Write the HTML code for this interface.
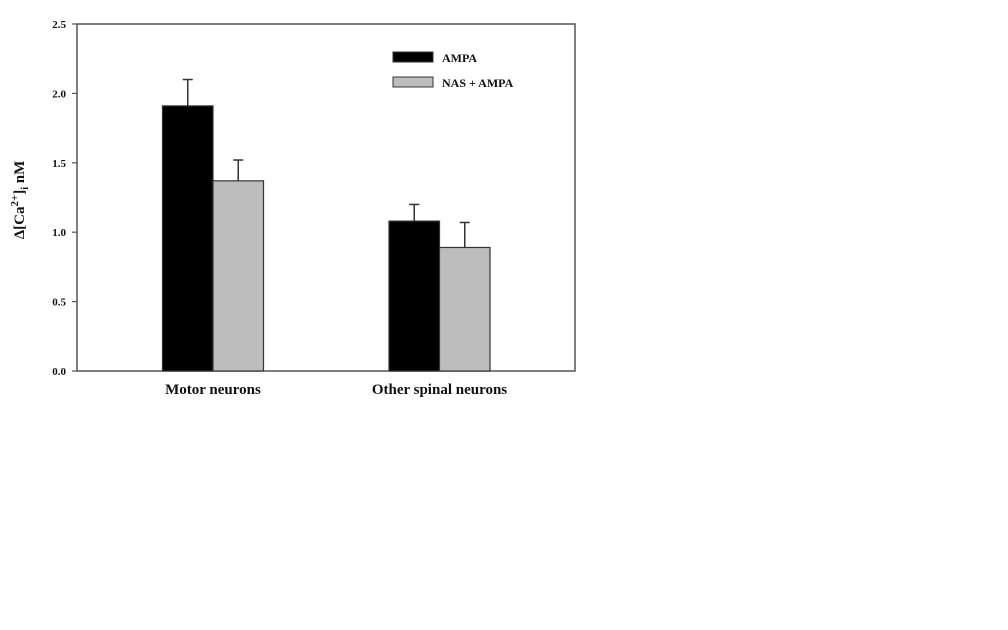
<!DOCTYPE html>
<html><head><meta charset="utf-8"><style>
html,body{margin:0;padding:0;background:#fff;width:1008px;height:630px;overflow:hidden}
text{font-family:"Liberation Serif",serif;font-weight:bold;fill:#111}
</style></head><body>
<svg id="chart" width="1008" height="630" xmlns="http://www.w3.org/2000/svg"></svg>
<script>
const categories = ["Motor neurons", "Other spinal neurons"];
const seriesNames = ["AMPA", "NAS + AMPA"];
const ampaValues = [1.91, 1.08];
const ampaErrors = [0.19, 0.12];
const nasValues = [1.37, 0.89];
const nasErrors = [0.15, 0.18];
const yTicks = [0, 0.5, 1.0, 1.5, 2.0, 2.5];

const svg = document.getElementById('chart');
const NS = 'http://www.w3.org/2000/svg';
const L = 77, R = 575, T = 24, B = 371, yMax = 2.5;
const y = v => B - (v / yMax) * (B - T);
const groupCenters = [213, 439.5];
const barW = 50.5;
function mk(tag, attrs, name, parent) {
  const e = document.createElementNS(NS, tag);
  for (const k in attrs) e.setAttribute(k, attrs[k]);
  
  
  (parent || svg).appendChild(e);
  return e;
}
// frame
mk('rect', {x: L, y: T, width: R - L, height: B - T, fill: 'none', stroke: '#555', 'stroke-width': 1.5}, 'plot-frame');
// ticks
yTicks.forEach(t => {
  mk('line', {x1: L - 5, x2: L, y1: y(t), y2: y(t), stroke: '#555', 'stroke-width': 1.2}, 'y-tick');
  const tx = mk('text', {x: 66, y: y(t) + 4, 'text-anchor': 'end', 'font-size': 11}, 'y-tick-label');
  tx.textContent = t.toFixed(1);
});
// bars
const series = [
  {vals: ampaValues, errs: ampaErrors, fill: '#000', off: -1, name: 'ampa'},
  {vals: nasValues, errs: nasErrors, fill: '#bdbdbd', off: 0, name: 'nas-ampa'}
];
series.forEach(s => {
  s.vals.forEach((v, i) => {
    const x0 = groupCenters[i] + s.off * barW;
    const cx = x0 + barW / 2;
    const et = y(v + s.errs[i]);
    mk('line', {x1: cx, x2: cx, y1: y(v), y2: et, stroke: '#333', 'stroke-width': 1.5}, 'error-bar-' + s.name);
    mk('line', {x1: cx - 5, x2: cx + 5, y1: et, y2: et, stroke: '#333', 'stroke-width': 1.5}, 'error-cap-' + s.name);
    mk('rect', {x: x0, y: y(v), width: barW, height: B - y(v), fill: s.fill, stroke: '#333', 'stroke-width': 1.2}, 'bar-' + s.name + '-' + i);
  });
});
// category labels
categories.forEach((c, i) => {
  const t = mk('text', {x: groupCenters[i], y: 394, 'text-anchor': 'middle', 'font-size': 15}, 'x-category-label');
  t.textContent = c;
});
// legend
mk('rect', {x: 393, y: 52, width: 40, height: 10, fill: '#000', stroke: '#333'}, 'legend-swatch-ampa');
mk('rect', {x: 393, y: 77, width: 40, height: 10, fill: '#bdbdbd', stroke: '#333'}, 'legend-swatch-nas-ampa');
const l1 = mk('text', {x: 442, y: 62, 'font-size': 12}, 'legend-label-ampa'); l1.textContent = seriesNames[0];
const l2 = mk('text', {x: 442, y: 87, 'font-size': 12}, 'legend-label-nas-ampa'); l2.textContent = seriesNames[1];
// y title
const yt = mk('text', {transform: 'translate(24,200) rotate(-90)', 'text-anchor': 'middle', 'font-size': 15}, 'y-axis-title');
yt.innerHTML = 'Δ[Ca<tspan dy="-6" font-size="11">2+</tspan><tspan dy="6">]</tspan><tspan dy="4" font-size="10">i</tspan><tspan dy="-4"> nM</tspan>';
</script>
</body></html>
